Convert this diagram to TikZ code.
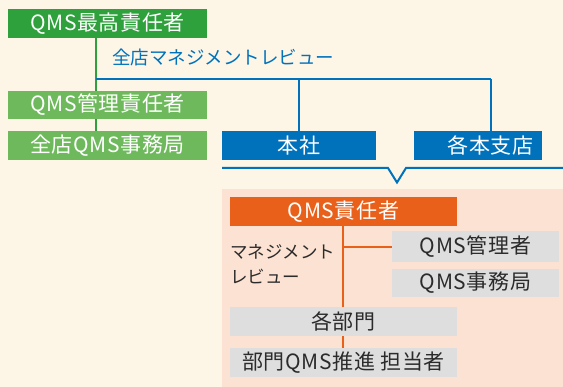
\documentclass[tikz,border=0pt]{standalone}
\usepackage{fontspec}
\setmainfont{Noto Sans CJK JP}
\usetikzlibrary{calc}
\usetikzlibrary{backgrounds}

\definecolor{cream}{HTML}{FDF6E7}
\definecolor{topgreen}{HTML}{2EA03C}
\definecolor{subgreen}{HTML}{6DB95B}
\definecolor{hqblue}{HTML}{0072BC}
\definecolor{respor}{HTML}{E9601A}
\definecolor{salmon}{HTML}{FCE2D2}
\definecolor{boxgray}{HTML}{DEDEDE}
\definecolor{ink}{HTML}{2B2B2B}

\newcommand{\boxfont}{\fontsize{21}{23}\selectfont\addfontfeature{LetterSpace=3}}

\begin{document}
\begin{tikzpicture}[x=1pt,y=-1pt]
\tikzstyle{box}=[rectangle, inner sep=0pt, text=white, font=\boxfont]
\tikzstyle{gbox}=[box, fill=boxgray, text=ink]
\tikzstyle{mrline}=[anchor=base west, text=ink, inner sep=0pt, font=\fontsize{17.5}{20}\selectfont]

\begin{scope}[on background layer]
\fill[cream] (0,0) rectangle (563,387);
\fill[salmon] (222,189) rectangle (563,387);
\end{scope}
\useasboundingbox (0,0) rectangle (563,387);

% top management side
\node (top) at (107.5,23.5) [box, fill=topgreen, minimum width=199pt, minimum height=29pt] {QMS最高責任者};
\node (qmr) at (107.5,105) [box, fill=subgreen, minimum width=199pt, minimum height=28pt] {QMS管理責任者};
\node (hqoffice) at (107.5,145.5) [box, fill=subgreen, minimum width=199pt, minimum height=29pt] {全店QMS事務局};

\node (honsha) at (299,145.5) [box, fill=hqblue, minimum width=154pt, minimum height=29pt] {本社};
\node (shops) at (478,145.5) [box, fill=hqblue, minimum width=128pt, minimum height=29pt, label={[xshift=12.5pt, text=white, font=\boxfont]center:各本支店}] {};

\node (review) [anchor=west, text=hqblue, inner sep=0pt, font=\fontsize{18.5}{20}\selectfont] at (112,57) {全店マネジメントレビュー};

\begin{scope}[on background layer]
\draw[topgreen, line width=2pt] (top.south -| 96,0) -- (hqoffice.north -| 96,0);
\end{scope}
\coordinate (R) at (96,79);
\draw[hqblue, line width=2pt] (R) -- (491,79);
\draw[hqblue, line width=2pt] (honsha.north) -- (honsha.north |- R);
\draw[hqblue, line width=2pt] (shops.north -| 491,0) -- (491,79);

% bracket with notch
\coordinate (bl) at (222,168);
\coordinate (br) at (563,168);
\draw[hqblue, line width=2pt] (bl) -- (388,168) -- (397,182.5) -- (406,168) -- (br);

% each site
\node (resp) at (343.5,211.5) [box, fill=respor, minimum width=227pt, minimum height=29pt] {QMS責任者};
\node (qmsmgr) at (475.5,246.5) [gbox, minimum width=167pt, minimum height=31pt] {QMS管理者};
\node (qmsoffice) at (475.5,283) [gbox, minimum width=167pt, minimum height=28pt] {QMS事務局};
\node (dept) at (343.5,321.5) [gbox, minimum width=227pt, minimum height=29pt] {各部門};
\node (deptrep) at (343.5,362.5) [gbox, minimum width=227pt, minimum height=29pt] {部門QMS推進 担当者};

\node (mr1) [mrline] at (230,258.5) {マネジメント};
\node (mr2) [mrline] at (230,283.5) {レビュー};

\begin{scope}[on background layer]
\draw[respor, line width=2.5pt] (resp.south -| 343,0) -- (deptrep.north -| 343,0);
\end{scope}
\draw[respor, line width=2.5pt] (343,247) -- (qmsmgr.west |- 343,247);

\end{tikzpicture}
\end{document}
